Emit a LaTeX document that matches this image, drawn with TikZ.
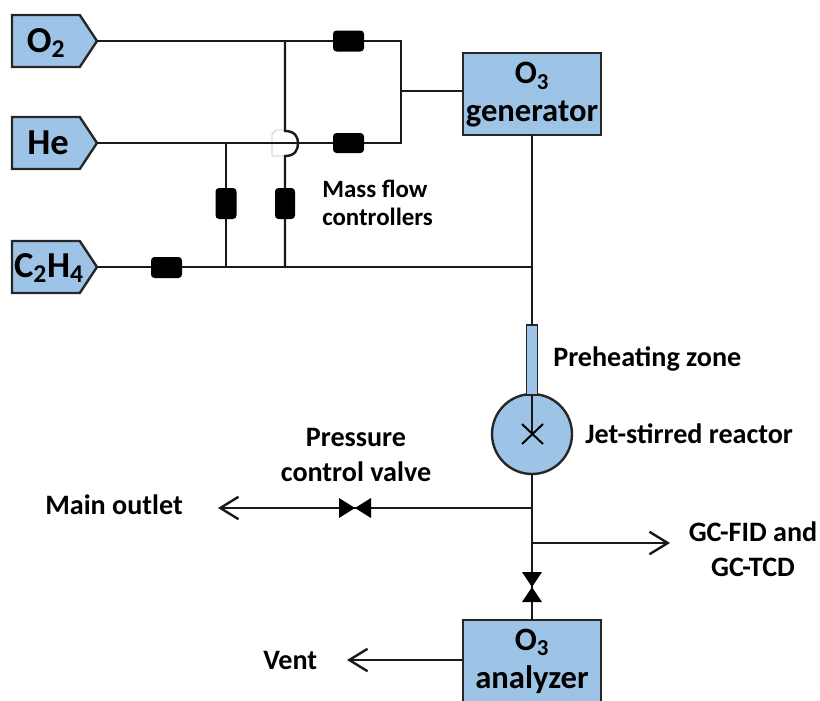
\documentclass[tikz,border=0pt]{standalone}
\usepackage{fontspec}
\setmainfont{Carlito}
\usetikzlibrary{arrows.meta,shapes.symbols}
\definecolor{boxblue}{RGB}{157,195,230}
\tikzset{
    pipe/.style={line width=1.7pt,black!90},
    outlet/.style={pipe,-{Straight Barb[length=13pt,width=16pt,line width=1.7pt]}},
    gas/.style={signal,signal to=east,signal pointer angle=113,draw=black!85,line width=1.7pt,fill=boxblue,anchor=east,
        minimum width=85*0.711pt,minimum height=52*0.711pt,inner sep=0pt,outer sep=0pt},
    gastext/.style={font=\fontsize{26}{28}\selectfont\bfseries,inner sep=0pt},
    unit/.style={draw=black!85,line width=1.7pt,fill=boxblue,minimum width=138*0.711pt,inner sep=0pt,outer sep=0pt},
    unittext/.style={align=center,font=\fontsize{23.2}{27}\selectfont\bfseries,inner sep=0pt},
    mfc/.style={fill=black,rounded corners=2.5pt,inner sep=0pt,outer sep=0pt},
    lbl/.style={align=center,font=\fontsize{20}{25}\selectfont\bfseries,inner sep=0pt},
}
\begin{document}
\begin{tikzpicture}[x=0.025cm,y=-0.025cm]
        \useasboundingbox (0,0) rectangle (820,700);

        % crossing mark left behind the hop
        \draw[black!25,line width=0.5pt] (285,130) -- (276,130) -- (272,134) -- (272,156) -- (285,156);

        \node[gas] (o2) at (97,41) {};
        \node[gas] (he) at (97,143) {};
        \node[gas] (c2h4) at (97,267) {};
        \node[gastext] (o2text) at (46,43) {O\textsubscript{2}};
        \node[gastext] (hetext) at (48,143) {He};
        \node[gastext] (c2h4text) at (49,268) {C\textsubscript{2}H\textsubscript{4}};

        \node[unit,minimum height=82*0.711pt] (gen) at (532,94) {};
        \node[unit,minimum height=100*0.711pt,anchor=north] (ana) at (532,620) {};
        \node[unittext] (gentext) at (532,95) {O\textsubscript{3}\\generator};
        \node[unittext] (anatext) at (532,661) {O\textsubscript{3}\\analyzer};
        \node[draw=black!85,line width=1.7pt,fill=boxblue,circle,minimum size=80*0.711pt,inner sep=0pt,outer sep=0pt] (jsr) at (532,434) {};
        \node[draw=black!85,line width=1.4pt,fill=boxblue,minimum width=11*0.711pt,minimum height=70*0.711pt,inner sep=0pt,outer sep=0pt] (tube) at (532,360) {};

        \coordinate (o2top) at (285,41);
        \coordinate (topright) at (401,41);
        \coordinate (hetap) at (226,143);
        \coordinate (heright) at (401,143);
        \coordinate (merge) at (401,91);
        \coordinate (hoptop) at (285,131);
        \coordinate (hopbot) at (285,156);
        \coordinate (c2a) at (226,267);
        \coordinate (c2b) at (285,267);
        \coordinate (c2c) at (532,267);
        \coordinate (stir) at (532,434);
        \coordinate (split) at (532,508);
        \coordinate (gctap) at (532,543);
        \coordinate (mainend) at (218,508);
        \coordinate (gcend) at (670,543);
        \coordinate (ventend) at (347,660);
        \coordinate (pcv) at (355,508);
        \coordinate (av) at (532,587);

        \draw[pipe] (o2.east) -- (o2top) -- (topright) -- (heright) -- (he.east);
        \draw[pipe] (merge) -- (merge -| gen.west);
        \draw[pipe] (o2top) -- (hoptop) .. controls (295,131) and (298,137) .. (298,143) .. controls (298,150) and (295,156) .. (hopbot) -- (c2b);
        \draw[pipe] (hetap) -- (c2a);
        \draw[pipe] (c2h4.east) -- (c2c);
        \draw[pipe] (gen.south) -- (tube.north);
        \draw[pipe] (tube.south) -- (stir);
        \draw[pipe] (jsr.south) -- (ana.north);
        \draw[outlet] (split) -- (mainend);
        \draw[outlet] (gctap) -- (gcend);
        \draw[outlet] (ana.west |- ventend) -- (ventend);

        \node[mfc,minimum width=31*0.711pt,minimum height=21*0.711pt] (mfco2) at (348.5,41) {};
        \node[mfc,minimum width=31*0.711pt,minimum height=20*0.711pt] (mfche) at (348.5,143) {};
        \node[mfc,minimum width=21*0.711pt,minimum height=31*0.711pt] (mfca) at (226,203.5) {};
        \node[mfc,minimum width=20*0.711pt,minimum height=31*0.711pt] (mfcb) at (285,203.5) {};
        \node[mfc,minimum width=31*0.711pt,minimum height=21*0.711pt] (mfcc) at (166.5,267.5) {};

        \draw[line width=1.4pt] (522,444) -- (543,424);
        \draw[line width=1.4pt] (522,424) -- (543,444);

        \fill (pcv) -- ++(-16,-10) -- ++(0,20) -- cycle;
        \fill (pcv) -- ++(16,-10) -- ++(0,20) -- cycle;
        \fill (av) -- ++(-10,-15) -- ++(20,0) -- cycle;
        \fill (av) -- ++(-10,15) -- ++(20,0) -- cycle;

        \node[lbl,font=\fontsize{17.7}{20}\selectfont\bfseries,align=left,anchor=west] (mfclabel) at (322,203) {Mass flow\\controllers};
        \node[lbl,anchor=west] (preheat) at (553,359) {Preheating zone};
        \node[lbl,anchor=west] (jsrlabel) at (585,434) {Jet-stirred reactor};
        \node[lbl] (pcvlabel) at (356,455) {Pressure\\control valve};
        \node[lbl,anchor=west] (mainlabel) at (45,505) {Main outlet};
        \node[lbl] (gclabel) at (753,549) {GC-FID and\\GC-TCD};
        \node[lbl,anchor=west] (ventlabel) at (263,660) {Vent};
\end{tikzpicture}
\end{document}
